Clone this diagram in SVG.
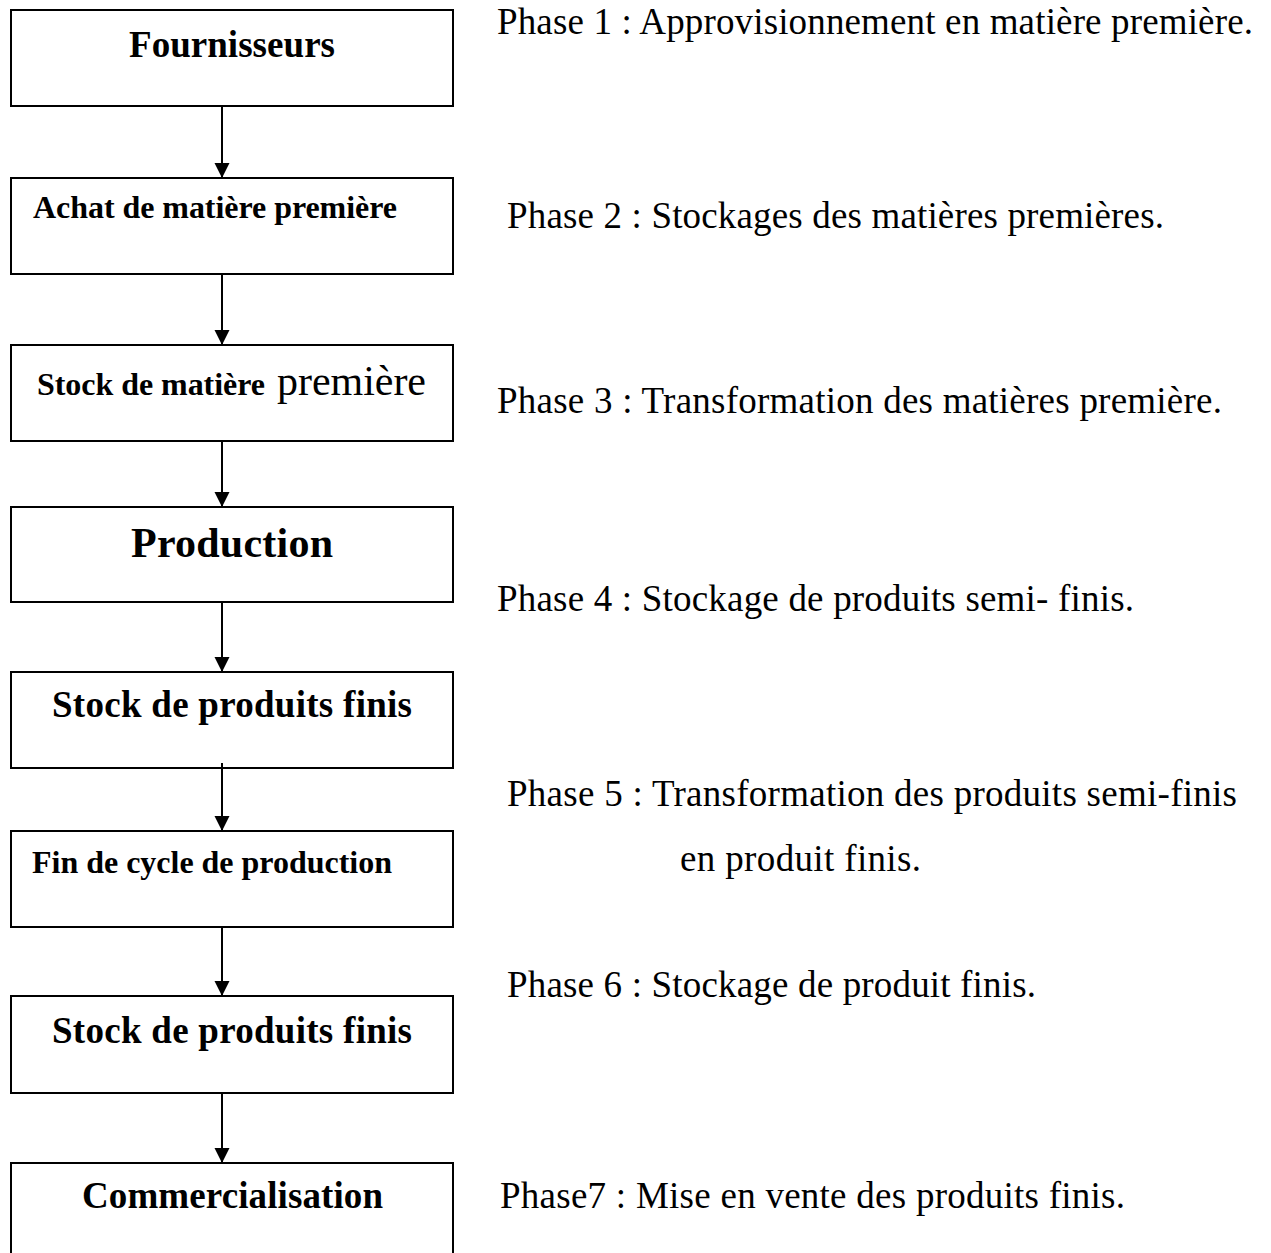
<svg xmlns="http://www.w3.org/2000/svg" width="1271" height="1253" viewBox="0 0 1271 1253">
<style>
.box{fill:#fff;stroke:#000;stroke-width:2}
.b{font-family:"Liberation Serif","Times New Roman",serif;font-weight:bold;fill:#000}
.r{font-family:"Liberation Serif","Times New Roman",serif;font-size:37px;fill:#000}
.c{stroke:#000;stroke-width:2;fill:none}
</style>
<defs>
<marker id="ah" markerUnits="userSpaceOnUse" markerWidth="16" markerHeight="16" refX="15" refY="7.5" orient="auto" viewBox="0 0 16 16">
<path d="M0,0 L15,7.5 L0,15 Z" fill="#000"/>
</marker>
</defs>
<rect width="1271" height="1253" fill="#fff"/>
<g id="n1"><rect class="box" x="11" y="10" width="442" height="96"/><text class="b" x="129" y="57" font-size="37" textLength="206">Fournisseurs</text></g>
<g id="n2"><rect class="box" x="11" y="178" width="442" height="96"/><text class="b" x="33" y="218" font-size="32" textLength="364">Achat de matière première</text></g>
<g id="n3"><rect class="box" x="11" y="345" width="442" height="96"/><text class="b" x="37" y="395" font-size="32" textLength="228">Stock de matière</text><text class="r" x="277" y="395" font-size="42" textLength="149" style="font-size:42px">première</text></g>
<g id="n4"><rect class="box" x="11" y="507" width="442" height="95"/><text class="b" x="131" y="557" font-size="42" textLength="202">Production</text></g>
<g id="n5"><rect class="box" x="11" y="672" width="442" height="96"/><text class="b" x="52" y="717" font-size="37" textLength="360">Stock de produits finis</text></g>
<g id="n6"><rect class="box" x="11" y="831" width="442" height="96"/><text class="b" x="32" y="873" font-size="32" textLength="360">Fin de cycle de production</text></g>
<g id="n7"><rect class="box" x="11" y="996" width="442" height="97"/><text class="b" x="52" y="1043" font-size="37" textLength="360">Stock de produits finis</text></g>
<g id="n8"><rect class="box" x="11" y="1163" width="442" height="100"/><text class="b" x="82" y="1208" font-size="37" textLength="301">Commercialisation</text></g>
<g id="connectors">
<line class="c" x1="222" y1="106" x2="222" y2="178" marker-end="url(#ah)"/>
<line class="c" x1="222" y1="274" x2="222" y2="345" marker-end="url(#ah)"/>
<line class="c" x1="222" y1="441" x2="222" y2="507" marker-end="url(#ah)"/>
<line class="c" x1="222" y1="602" x2="222" y2="672" marker-end="url(#ah)"/>
<line class="c" x1="222" y1="763" x2="222" y2="831" marker-end="url(#ah)"/>
<line class="c" x1="222" y1="927" x2="222" y2="996" marker-end="url(#ah)"/>
<line class="c" x1="222" y1="1093" x2="222" y2="1163" marker-end="url(#ah)"/>
</g>
<g id="phases">
<text class="r" x="497" y="34" textLength="756">Phase 1 : Approvisionnement en matière première.</text>
<text class="r" x="507" y="228" textLength="657">Phase 2 : Stockages des matières premières.</text>
<text class="r" x="497" y="413" textLength="725">Phase 3 : Transformation des matières première.</text>
<text class="r" x="497" y="611" textLength="637">Phase 4 : Stockage de produits semi- finis.</text>
<text class="r" x="507" y="806" textLength="730">Phase 5 : Transformation des produits semi-finis</text>
<text class="r" x="680" y="871" textLength="241">en produit finis.</text>
<text class="r" x="507" y="997" textLength="529">Phase 6 : Stockage de produit finis.</text>
<text class="r" x="500" y="1208" textLength="625">Phase7 : Mise en vente des produits finis.</text>
</g>
</svg>
